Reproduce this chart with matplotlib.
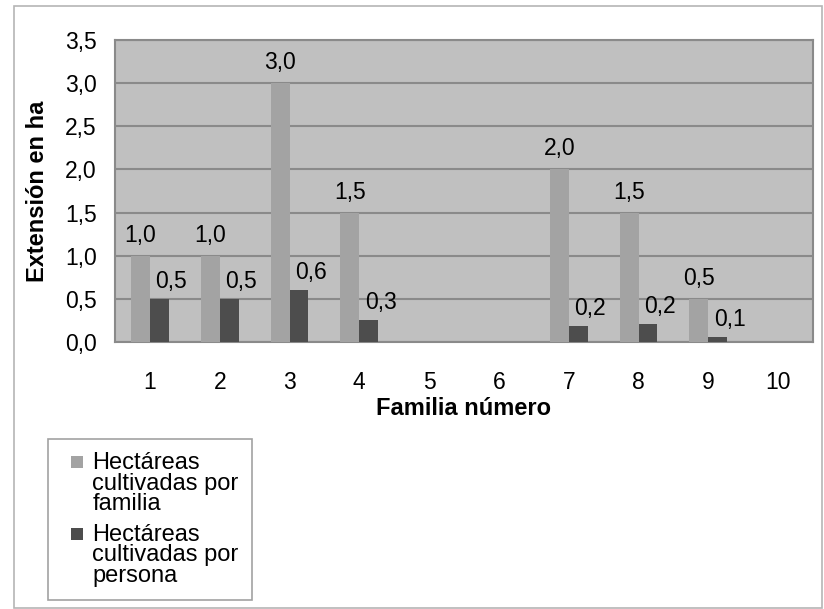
import numpy as np
import matplotlib
matplotlib.use('Agg')
import matplotlib.pyplot as plt
from matplotlib.patches import Rectangle
from matplotlib.container import BarContainer
from matplotlib.legend_handler import HandlerPatch, update_from_first_child

plt.rcParams['font.family'] = ['Liberation Sans', 'DejaVu Sans']

# datos
familias = ['1', '2', '3', '4', '5', '6', '7', '8', '9', '10']
ha_familia = [1.0, 1.0, 3.0, 1.5, 0, 0, 2.0, 1.5, 0.5, 0]
ha_persona = [0.5, 0.5, 0.6, 0.26, 0, 0, 0.18, 0.21, 0.06, 0]
yticks = [0.0, 0.5, 1.0, 1.5, 2.0, 2.5, 3.0, 3.5]

col_fam = '#a3a3a3'
col_per = '#4d4d4d'
col_grid = '#8a8a8a'
fs = 16.5
LINESP = 0.92

fig = plt.figure(figsize=(8.24, 6.09), dpi=100)
ax = fig.add_axes([115 / 824, 1 - 342 / 609, 698 / 824, 302 / 609])
ax.set_facecolor('#c0c0c0')

x = np.arange(len(familias))
w = 0.27
b1 = ax.bar(x - w / 2, ha_familia, w, color=col_fam, label='Hectáreas\ncultivadas por\nfamilia', zorder=3)
b2 = ax.bar(x + w / 2, ha_persona, w, color=col_per, label='Hectáreas\ncultivadas por\npersona', zorder=3)

def fmt(v):
    return f'{v:.1f}'.replace('.', ',')

for rect, v in zip(b1, ha_familia):
    if v > 0:
        ax.annotate(fmt(v), (rect.get_x() + rect.get_width() / 2, v),
                    xytext=(0, 9), textcoords='offset pixels',
                    ha='center', va='bottom', fontsize=fs)
for rect, v in zip(b2, ha_persona):
    if v > 0:
        ax.annotate(fmt(v), (rect.get_x() + rect.get_width() / 2, v),
                    xytext=(12, 6), textcoords='offset pixels',
                    ha='center', va='bottom', fontsize=fs)

ax.set_xlim(-0.5, len(familias) - 0.5)
ax.set_ylim(0, 3.5)
ax.set_yticks(yticks)
ax.set_yticklabels([fmt(t) for t in yticks])
ax.set_xticks(x)
ax.set_xticklabels(familias)
ax.tick_params(axis='both', length=0, labelsize=fs)
ax.tick_params(axis='y', pad=13)
ax.tick_params(axis='x', pad=21)
ax.grid(axis='y', color=col_grid, linewidth=1.5, zorder=1)
for s in ax.spines.values():
    s.set_color(col_grid)
    s.set_linewidth(1.5)

ax.set_xlabel('Familia número', fontsize=17, fontweight='bold', labelpad=2)
ax.set_ylabel('Extensión en ha', fontsize=17, fontweight='bold', labelpad=12)


# cuadrado de la leyenda alineado con la primera línea del texto
def square_top(legend, orig_handle, xdescent, ydescent, width, height, fontsize):
    step = LINESP * fontsize * 0.95
    s = 0.51 * fontsize
    y0 = 2 * step + 0.36 * fontsize - s / 2 - 0.85 * fontsize
    return Rectangle((-xdescent + width - s, y0), s, s)


leg = fig.legend(loc='upper left', bbox_to_anchor=(48 / 824, 1 - 439 / 609),
                 fontsize=17, frameon=True, fancybox=False, borderpad=0.55,
                 handlelength=0.93, handleheight=0.7, handletextpad=0.4,
                 labelspacing=0.35, borderaxespad=0,
                 handler_map={BarContainer: HandlerPatch(patch_func=square_top,
                                                         update_func=update_from_first_child)})
for t in leg.get_texts():
    t.set_linespacing(LINESP)
leg.get_frame().set_edgecolor('#8a8a8a')
leg.get_frame().set_linewidth(1.2)

# marco exterior
fig.patches.append(Rectangle((14 / 824, 1 / 609), 808 / 824, 602 / 609,
                             transform=fig.transFigure, fill=False,
                             edgecolor='#b5b5b5', linewidth=1.2))

fig.savefig('out.png', dpi=100)
